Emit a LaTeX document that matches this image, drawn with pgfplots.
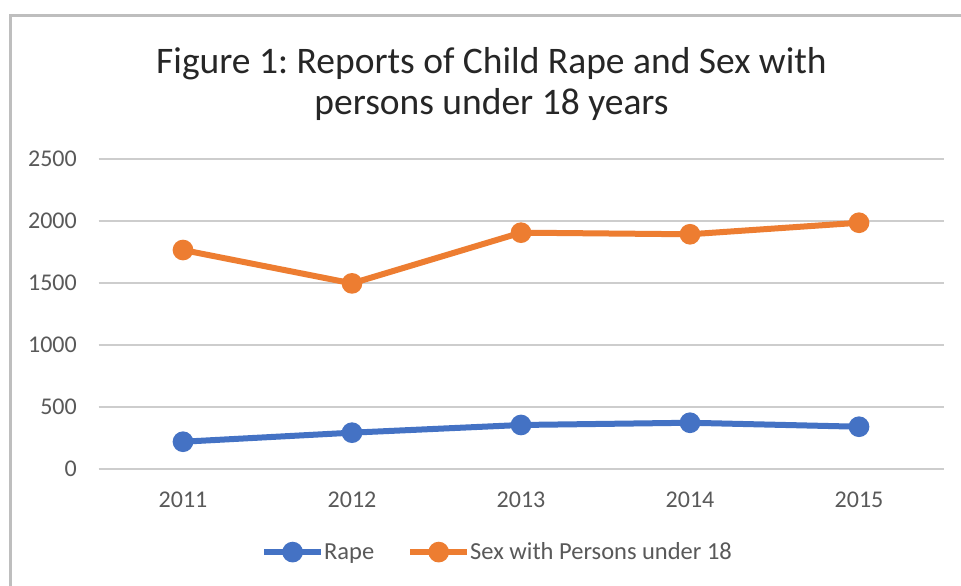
\documentclass[border=0pt]{standalone}
\usepackage{pgfplots}
\pgfplotsset{compat=1.18}
\usepackage{fontspec}
\setmainfont{Carlito}
\frenchspacing
\definecolor{cblue}{HTML}{4472C4}
\definecolor{corange}{HTML}{ED7D31}
\definecolor{cgrid}{HTML}{CDCDCD}
\definecolor{ctext}{HTML}{595959}
\definecolor{ctitle}{HTML}{262626}
\definecolor{cframe}{HTML}{BEBEBE}
\begin{document}
\begin{tikzpicture}
\clip (0,0) rectangle (961bp,-586bp);
\fill[white] (0,0) rectangle (961bp,-586bp);
\draw[cframe, line width=3bp] (10.5bp,-15.5bp) rectangle (1000bp,-700bp);
\node[anchor=base, inner sep=0pt, text=ctitle, font=\fontsize{37.5bp}{42bp}\selectfont] at (491.5bp,-73bp) {Figure 1: Reports of Child Rape and Sex with};
\node[anchor=base, inner sep=0pt, text=ctitle, font=\fontsize{37.5bp}{42bp}\selectfont] at (491.5bp,-114bp) {persons under 18 years};
\begin{axis}[
  at={(98.5bp,-469bp)}, anchor=south west,
  scale only axis, width=845bp, height=310bp,
  xmin=-0.5, xmax=4.5, ymin=0, ymax=2500,
  xtick={0,1,2,3,4}, xticklabels={2011,2012,2013,2014,2015},
  ytick={0,500,1000,1500,2000,2500},
  axis line style={draw=none},
  major tick length=0pt,
  ymajorgrids, grid style={cgrid, line width=2bp},
  /pgf/number format/assume math mode=true,
  /pgf/number format/1000 sep={},
  ticklabel style={font=\fontsize{24bp}{28bp}\selectfont, text=ctext, inner sep=0pt},
  xticklabel style={anchor=north, yshift=-23bp},
  yticklabel style={anchor=east, xshift=-21.5bp},
  legend columns=2,
  legend style={at={(axis description cs:0.471,-0.268)}, anchor=center, draw=none, fill=none,
    font=\fontsize{24.5bp}{28bp}\selectfont, text=ctext,
    /tikz/every even column/.append style={column sep=33bp},
    nodes={inner sep=0pt, xshift=4bp}},
  legend image code/.code={\draw[mark repeat=2,mark phase=2,#1] plot coordinates {(0bp,0bp) (28.5bp,0bp) (57bp,0bp)};},
  every axis plot/.append style={line width=6bp, mark=*, mark size=7.3bp},
  clip=false,
]
\addplot[cblue, mark options={fill=cblue, draw=none}] coordinates {(0,220) (1,293) (2,355) (3,373) (4,341)};
\addlegendentry{Rape}
\addplot[corange, mark options={fill=corange, draw=none}] coordinates {(0,1766) (1,1497) (2,1906) (3,1893) (4,1986)};
\addlegendentry{Sex with Persons under 18}
\end{axis}
\end{tikzpicture}
\end{document}
